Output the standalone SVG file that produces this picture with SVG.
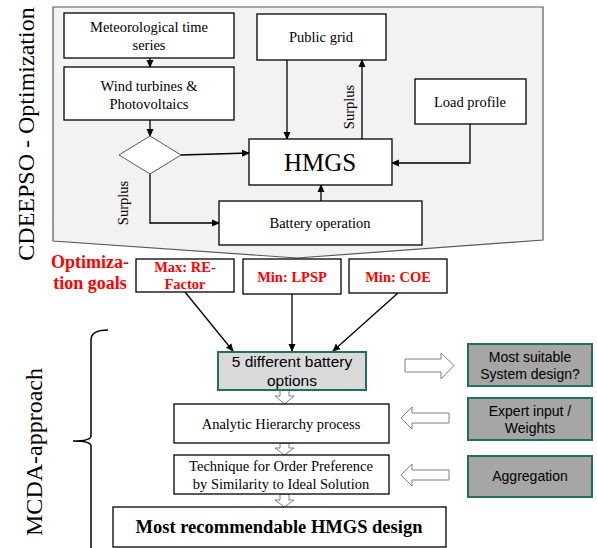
<svg xmlns="http://www.w3.org/2000/svg" width="597" height="548" viewBox="0 0 597 548">
<defs>
<marker id="ah" markerWidth="8" markerHeight="8" refX="7" refY="4" orient="auto" markerUnits="userSpaceOnUse">
<path d="M0,0.5 L8,4 L0,7.5 Z" fill="#000"/>
</marker>
<style>
.box{fill:#fff;stroke:#000;stroke-width:1.3}
.t{font-family:"Liberation Serif","Times New Roman",serif;font-size:14.5px;fill:#000;text-anchor:middle}
.s{font-family:"Liberation Sans",Arial,sans-serif;fill:#000;text-anchor:middle}
.red{font-family:"Liberation Serif","Times New Roman",serif;font-weight:bold;fill:#ff0000;text-anchor:middle;font-size:14.5px}
.ln{fill:none;stroke:#000;stroke-width:1.3}
.hol{fill:#fff;stroke:#7f7f7f;stroke-width:1}
.gbox{fill:#a6a6a6;stroke:#1f6f62;stroke-width:2}
</style>
</defs>
<rect width="597" height="548" fill="#fff"/>
<polygon points="53,7 543,7 543,240 297,258 53,241" fill="#f2f2f2" stroke="#595959" stroke-width="1.2"/>
<text class="t" font-size="24" style="font-size:24px" transform="translate(34,134) rotate(-90)">CDEEPSO - Optimization</text>
<text class="t" style="font-size:24px" transform="translate(42,452) rotate(-90)">MCDA-approach</text>
<path d="M108,330 Q91,330 91,340 L91,436 Q91,441 73,441 Q91,441 91,446 L91,548" fill="none" stroke="#000" stroke-width="1.5"/>

<g id="connectors">
<line class="ln" x1="150" y1="58" x2="150" y2="67" marker-end="url(#ah)"/>
<line class="ln" x1="150" y1="120" x2="150" y2="136" marker-end="url(#ah)"/>
<line class="ln" x1="181" y1="155" x2="249" y2="153" marker-end="url(#ah)"/>
<polyline class="ln" points="150,174 150,223 219,223" marker-end="url(#ah)"/>
<line class="ln" x1="287" y1="60" x2="287" y2="139" marker-end="url(#ah)"/>
<line class="ln" x1="362" y1="139" x2="362" y2="60" marker-end="url(#ah)"/>
<polyline class="ln" points="470,124 470,163 392,163" marker-end="url(#ah)"/>
<line class="ln" x1="321" y1="201" x2="321" y2="185" marker-end="url(#ah)"/>
<line class="ln" x1="185" y1="292" x2="233" y2="351" marker-end="url(#ah)"/>
<line class="ln" x1="292" y1="294" x2="292" y2="351" marker-end="url(#ah)"/>
<line class="ln" x1="398" y1="293" x2="333" y2="351" marker-end="url(#ah)"/>
<text class="t" transform="translate(128,203) rotate(-90)">Surplus</text>
<text class="t" transform="translate(354,107) rotate(-90)">Surplus</text>
<polygon class="hol" points="280,390 289,390 289,396 294,396 284.5,404 275,396 280,396"/>
<polygon class="hol" points="280,443 289,443 289,448 294,448 284.5,455 275,448 280,448"/>
<polygon class="hol" points="280,494 289,494 289,500 294,500 284.5,507 275,500 280,500"/>
<polygon class="hol" points="405,359 441,359 441,353 454,365.5 441,379 441,372 405,372"/>
<polygon class="hol" points="449,413 412,413 412,407 401,418 412,429 412,423 449,423"/>
<polygon class="hol" points="449,470 412,470 412,464 401,475 412,486 412,480 449,480"/>
</g>

<g id="meteo"><rect class="box" x="64" y="13" width="170" height="45"/>
<text class="t" x="149" y="32">Meteorological time</text><text class="t" x="149" y="50">series</text></g>
<g id="wind"><rect class="box" x="64" y="67" width="170" height="53"/>
<text class="t" x="149" y="91">Wind turbines &amp;</text><text class="t" x="149" y="109">Photovoltaics</text></g>
<g id="decision"><polygon points="150,136 181,155 150,174 119,155" fill="#fff" stroke="#595959" stroke-width="1"/></g>
<g id="grid"><rect class="box" x="257" y="14" width="129" height="46"/>
<text class="t" x="321" y="42">Public grid</text></g>
<g id="hmgs"><rect class="box" x="249" y="139" width="143" height="46"/>
<text class="t" style="font-size:25px" x="320" y="171">HMGS</text></g>
<g id="load"><rect class="box" x="415" y="79" width="111" height="45"/>
<text class="t" x="470" y="107">Load profile</text></g>
<g id="battery"><rect class="box" x="219" y="201" width="203" height="44"/>
<text class="t" x="320" y="228">Battery operation</text></g>

<g id="goals-label"><text class="red" style="font-size:18px" x="90" y="268">Optimiza-</text>
<text class="red" style="font-size:18px" x="90" y="289">tion goals</text></g>
<g id="g-re"><rect class="box" x="136" y="259" width="98" height="33"/>
<text class="red" x="185" y="272">Max: RE-</text><text class="red" x="185" y="289">Factor</text></g>
<g id="g-lpsp"><rect class="box" x="243" y="259" width="98" height="35"/>
<text class="red" x="292" y="282">Min: LPSP</text></g>
<g id="g-coe"><rect class="box" x="349" y="259" width="98" height="34"/>
<text class="red" x="398" y="282">Min: COE</text></g>

<g id="options"><rect x="218" y="352" width="148" height="38" fill="#d9d9d9" stroke="#1f6f62" stroke-width="2"/>
<text class="s" style="font-size:15.5px" x="292" y="367">5 different battery</text>
<text class="s" style="font-size:15.5px" x="292" y="386">options</text></g>
<g id="ahp"><rect class="box" x="174" y="404" width="215" height="39"/>
<text class="t" x="281" y="429">Analytic Hierarchy process</text></g>
<g id="topsis"><rect class="box" x="174" y="455" width="215" height="39"/>
<text class="t" x="281" y="471">Technique for Order Preference</text>
<text class="t" x="281" y="489">by Similarity to Ideal Solution</text></g>
<g id="result"><rect class="box" x="113" y="507" width="333" height="40"/>
<text class="t" style="font-size:18.5px;font-weight:bold" x="279" y="533">Most recommendable HMGS design</text></g>

<g id="suitable"><rect class="gbox" x="468" y="344" width="124" height="42"/>
<text class="s" style="font-size:14px" x="530" y="362">Most suitable</text>
<text class="s" style="font-size:14px" x="530" y="379">System design?</text></g>
<g id="expert"><rect class="gbox" x="468" y="398" width="124" height="42"/>
<text class="s" style="font-size:14px" x="530" y="416">Expert input /</text>
<text class="s" style="font-size:14px" x="530" y="433">Weights</text></g>
<g id="aggregation"><rect class="gbox" x="468" y="456" width="124" height="41"/>
<text class="s" style="font-size:14px" x="530" y="481">Aggregation</text></g>
</svg>
